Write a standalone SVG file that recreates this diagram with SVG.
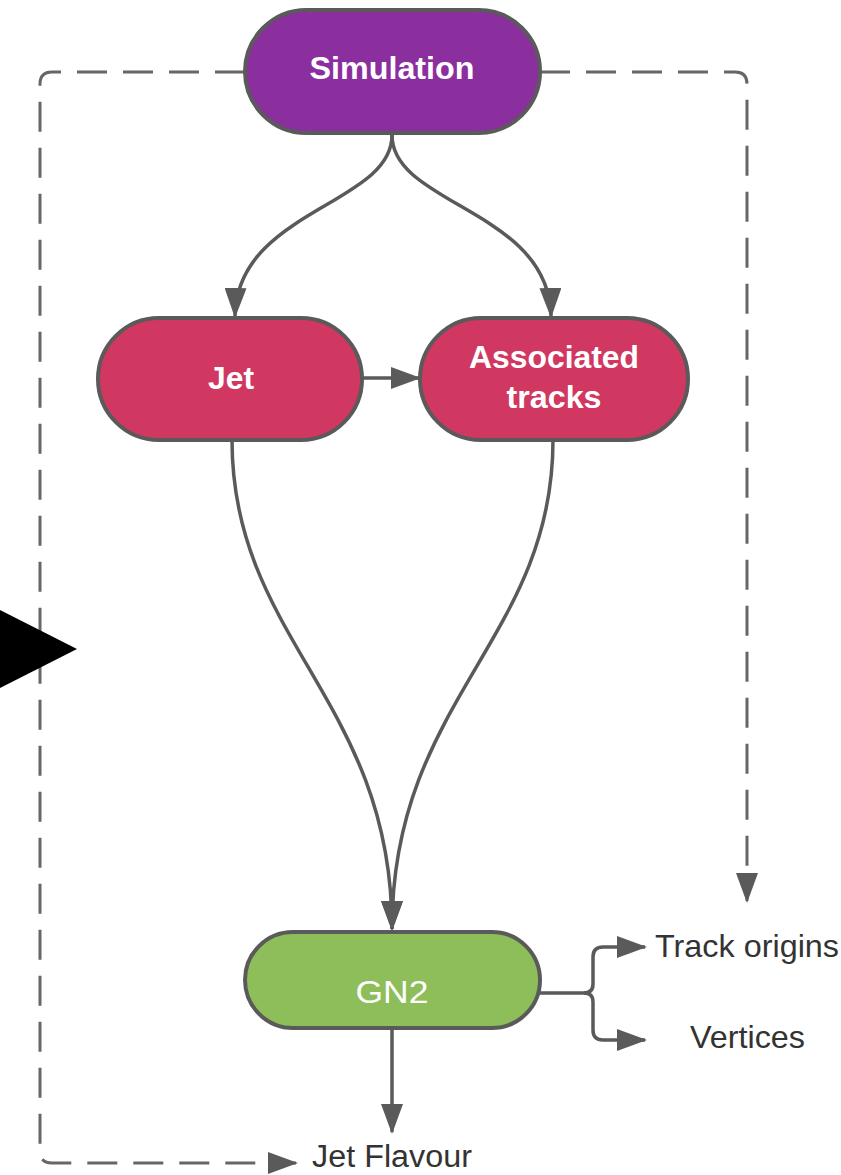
<svg xmlns="http://www.w3.org/2000/svg" width="841" height="1175" viewBox="0 0 841 1175">
<style>
.node{stroke:#5a5a5a;stroke-width:4}
.lbl{font-family:"Liberation Sans",Arial,sans-serif;fill:#ffffff;text-anchor:middle}
.out{font-family:"Liberation Sans",Arial,sans-serif;fill:#333333}
.c{fill:none;stroke:#5a5a5a;stroke-width:3.5}
.d{fill:none;stroke:#666666;stroke-width:3;stroke-dasharray:30 16}
</style>
<defs>
<marker id="ah" markerUnits="userSpaceOnUse" markerWidth="30" markerHeight="22" viewBox="0 0 30 22" refX="28" refY="11" orient="auto">
<path d="M0,0 L30,11 L0,22 Z" fill="#5a5a5a"/>
</marker>
</defs>
<rect x="0" y="0" width="841" height="1175" fill="#ffffff"/>
<g id="connectors">
<path class="d" d="M245,72 H52 Q40,72 40,84 V1151 Q40,1163 52,1163 H296" marker-end="url(#ah)"/>
<path class="d" d="M540,72 H735 Q747,72 747,84 V901" marker-end="url(#ah)"/>
<path class="c" d="M392,135 C392,205 237,210 235,316" marker-end="url(#ah)"/>
<path class="c" d="M392,135 C392,205 549,210 551,316" marker-end="url(#ah)"/>
<path class="c" d="M362,378 H419" marker-end="url(#ah)"/>
<path class="c" d="M232,440 C232,640 392,700 392,929" marker-end="url(#ah)"/>
<path class="c" d="M553,440 C553,640 392,700 392,929" marker-end="url(#ah)"/>
<path class="c" d="M540,993 H584 Q593,993 593,984 V957 Q593,947 603,947 H645" marker-end="url(#ah)"/>
<path class="c" d="M584,993 Q593,993 593,1002 V1030 Q593,1040 603,1040 H645" marker-end="url(#ah)"/>
<path class="c" d="M392,1028 V1132" marker-end="url(#ah)"/>
</g>
<g id="simulation">
<rect class="node" x="245" y="10" width="295" height="123" rx="61.5" fill="#8b2f9f"/>
<text class="lbl" x="392" y="79" font-size="31" font-weight="bold" textLength="165" lengthAdjust="spacingAndGlyphs">Simulation</text>
</g>
<g id="jet">
<rect class="node" x="98" y="318" width="264" height="122" rx="61" fill="#d03862"/>
<text class="lbl" x="231" y="389" font-size="31" font-weight="bold" textLength="46" lengthAdjust="spacingAndGlyphs">Jet</text>
</g>
<g id="associated-tracks">
<rect class="node" x="420" y="318" width="268" height="122" rx="61" fill="#d03862"/>
<text class="lbl" x="554" y="368" font-size="31" font-weight="bold" textLength="170" lengthAdjust="spacingAndGlyphs">Associated</text>
<text class="lbl" x="554" y="408" font-size="31" font-weight="bold" textLength="95" lengthAdjust="spacingAndGlyphs">tracks</text>
</g>
<g id="gn2">
<rect class="node" x="245" y="932" width="295" height="96" rx="48" fill="#8dbe5a"/>
<text class="lbl" x="392" y="1003" font-size="32" textLength="73" lengthAdjust="spacingAndGlyphs">GN2</text>
</g>
<g id="outputs">
<text class="out" x="655" y="957" font-size="32" textLength="184" lengthAdjust="spacingAndGlyphs">Track origins</text>
<text class="out" x="690" y="1048" font-size="32" textLength="115" lengthAdjust="spacingAndGlyphs">Vertices</text>
<text class="out" x="312" y="1167" font-size="31" textLength="160" lengthAdjust="spacingAndGlyphs">Jet Flavour</text>
</g>
<polygon points="0,610 77,649 0,688" fill="#000000"/>
</svg>
